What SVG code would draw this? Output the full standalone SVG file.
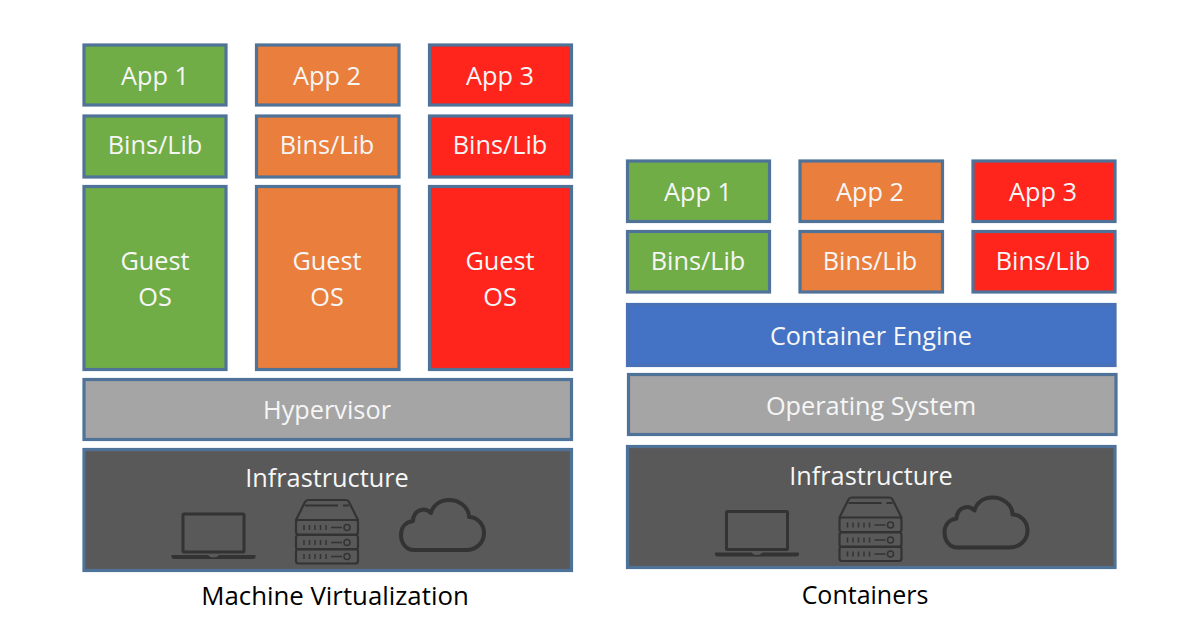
<svg xmlns="http://www.w3.org/2000/svg" width="1190" height="634" viewBox="0 0 1190 634">
<style>
.b{stroke:#4f7299;stroke-width:3.200}
.g{fill:#70ad47}.o{fill:#ea7e3c}.r{fill:#ff241c}.e{fill:#4472c4;stroke:#4a70b5}.h{fill:#a5a5a5}.d{fill:#595959}
text{font-family:"Open Sans","Noto Sans","Liberation Sans",sans-serif;font-size:25.300px;fill:#f6f6f6;text-anchor:middle}
.c{fill:#000;font-size:25.800px}
.c2{fill:#000;font-size:25px}
.i{fill:none;stroke:#333;stroke-width:3;stroke-linejoin:round;stroke-linecap:round}
.t{fill:none;stroke:#333;stroke-width:1.500}
.s{fill:#333}
</style>
<defs>
<g id="row"><rect class="i" x="296" y="520" width="62" height="14.500" rx="2.500" style="stroke-width:2.200"/><path class="t" d="M304 525v5M309.500 525v5M315 525v5M320.500 525v5M326 525v5M331 527.500H342"/><circle class="t" cx="347" cy="527.500" r="3"/></g>
<g id="icons">
<rect class="i" x="183" y="514" width="61" height="38" rx="1"/>
<path class="s" d="M171.500 555H208Q210 557.500 213.500 557.500Q217 557.500 219 555H255.500V557Q255.500 559 253 559H174Q171.500 559 171.500 557Z"/>
<path class="i" style="stroke-width:2.200" d="M296 520L305 502Q306 500 308 500H346Q348 500 349 502L358 520"/>
<path class="t" style="stroke-width:1.800" d="M305 505.500H338M343 505.500H349"/>
<use href="#row"/><use href="#row" y="15"/><use href="#row" y="29"/>
<path class="i" style="stroke-width:4" d="M414 550H466C476 550 484 543 484 533C484 524 477 517 469 517C469 507 459 500 449 500C440 500 433 505 431 513C428 510 424 509 421 510C416 511 413 516 413 521C405 522 401 528 401 535C401 543 406 550 414 550Z"/>
</g>
</defs>

<g id="vm-app1"><rect class="b g" x="84" y="45" width="142" height="60"/><text x="155" y="85">App 1</text></g>
<g id="vm-app2"><rect class="b o" x="256.500" y="45" width="142.500" height="60"/><text x="327" y="85">App 2</text></g>
<g id="vm-app3"><rect class="b r" x="429.500" y="45" width="142" height="60"/><text x="500" y="85">App 3</text></g>
<g id="vm-bins1"><rect class="b g" x="84" y="116" width="142" height="61"/><text x="155" y="154">Bins/Lib</text></g>
<g id="vm-bins2"><rect class="b o" x="256.500" y="116" width="142.500" height="61"/><text x="327" y="154">Bins/Lib</text></g>
<g id="vm-bins3"><rect class="b r" x="429.500" y="116" width="142" height="61"/><text x="500" y="154">Bins/Lib</text></g>
<g id="vm-os1"><rect class="b g" x="84" y="186.500" width="142" height="183"/><text x="155" y="270">Guest</text><text x="155" y="306">OS</text></g>
<g id="vm-os2"><rect class="b o" x="256.500" y="186.500" width="142.500" height="183"/><text x="327" y="270">Guest</text><text x="327" y="306">OS</text></g>
<g id="vm-os3"><rect class="b r" x="429.500" y="186.500" width="142" height="183"/><text x="500" y="270">Guest</text><text x="500" y="306">OS</text></g>
<g id="vm-hypervisor"><rect class="b h" x="84" y="379.500" width="487.500" height="60"/><text x="327" y="419">Hypervisor</text></g>
<g id="vm-infra"><rect class="b d" x="84" y="449.500" width="487.500" height="121"/><text x="327" y="487">Infrastructure</text><use href="#icons"/></g>
<text class="c" x="335" y="605">Machine Virtualization</text>

<g id="ct-app1"><rect class="b g" x="627.500" y="161" width="142" height="60.500"/><text x="698" y="201">App 1</text></g>
<g id="ct-app2"><rect class="b o" x="800" y="161" width="142.500" height="60.500"/><text x="870" y="201">App 2</text></g>
<g id="ct-app3"><rect class="b r" x="973" y="161" width="142" height="60.500"/><text x="1043" y="201">App 3</text></g>
<g id="ct-bins1"><rect class="b g" x="627.500" y="231.500" width="142" height="60.500"/><text x="698" y="270">Bins/Lib</text></g>
<g id="ct-bins2"><rect class="b o" x="800" y="231.500" width="142.500" height="60.500"/><text x="870" y="270">Bins/Lib</text></g>
<g id="ct-bins3"><rect class="b r" x="973" y="231.500" width="142" height="60.500"/><text x="1043" y="270">Bins/Lib</text></g>
<g id="ct-engine"><rect class="b e" x="627.500" y="304.500" width="487.500" height="61"/><text x="871" y="345">Container Engine</text></g>
<g id="ct-os"><rect class="b h" x="628.500" y="374.500" width="487.500" height="60"/><text x="871" y="415">Operating System</text></g>
<g id="ct-infra"><rect class="b d" x="627.500" y="446.500" width="487.500" height="121"/><text x="871" y="485">Infrastructure</text><use href="#icons" x="543.500" y="-2.500"/></g>
<text class="c2" x="865" y="604">Containers</text>
<g id="connectors"/>
</svg>
